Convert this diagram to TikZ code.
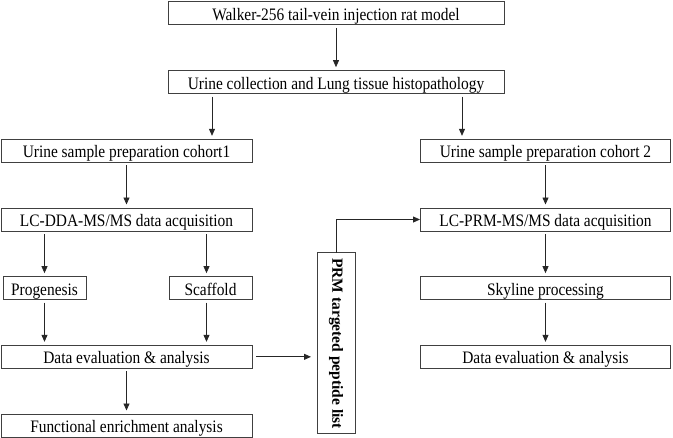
\documentclass[tikz,border=0pt]{standalone}
\usepackage{fontspec}
\setmainfont{Liberation Serif}[FakeStretch=0.88]
\newfontfamily\listfont{Liberation Serif}
\usepackage{graphicx}
\usepackage{tikz}
\usetikzlibrary{arrows.meta, positioning}

\begin{document}
\begin{tikzpicture}[
    x=1pt, y=1pt,
    node distance=45.67pt and 0pt,
    >={Triangle[length=7pt,width=6pt]},
    box/.style={
        rectangle, draw=black!75, line width=1pt,
        minimum height=23pt, inner sep=0pt, outer sep=0pt,
        text height=14.5pt, text depth=0.5pt,
        font=\fontsize{17.5}{20}\selectfont
    },
    wide/.style={box, minimum width=251pt},
    narrow/.style={box, minimum width=83pt},
    listbox/.style={
        rectangle, draw=black!75, line width=1pt,
        minimum width=38pt, minimum height=181pt, inner sep=0pt, outer sep=0pt,
        font=\listfont\bfseries\fontsize{15.5}{18}\selectfont
    },
    arrow/.style={->, line width=0.8pt, black!85, shorten <=3pt, shorten >=3.5pt},
]
\useasboundingbox (0,0) rectangle (673,-438);

% Animal model and sampling
\node[box, minimum width=336pt] (model) at (336,-13.5) {Walker-256 tail-vein injection rat model};
\node[box, minimum width=336pt, below=of model] (collect) {Urine collection and Lung tissue histopathology};

\coordinate (colL) at (126.5,0);
\coordinate (colR) at (545.5,0);

% Cohort 1: discovery
\node[wide, anchor=north] (prepA) at ([yshift=-45.67pt]collect.south -| colL) {Urine sample preparation cohort1};
\node[wide, below=of prepA] (ddaAcq) {LC-DDA-MS/MS data acquisition};
\node[narrow, below=of ddaAcq.south west, anchor=north west, xshift=2pt] (progen) {Progenesis};
\node[narrow, below=of ddaAcq.south east, anchor=north east] (scaffold) {Scaffold};
\node[wide, below=114.33pt of ddaAcq] (evalA) {Data evaluation \& analysis};
\node[wide, below=of evalA] (enrich) {Functional enrichment analysis};

% Cohort 2: validation
\node[wide, minimum width=250pt, anchor=north] (prepB) at ([yshift=-45.67pt]collect.south -| colR) {Urine sample preparation cohort 2};
\node[wide, minimum width=250pt, below=of prepB] (prmAcq) {LC-PRM-MS/MS data acquisition};
\node[wide, minimum width=250pt, below=of prmAcq] (skyline) {Skyline processing};
\node[wide, minimum width=250pt, below=of skyline] (evalB) {Data evaluation \& analysis};

% Target list between the cohorts
\node[listbox] (prmList) at (336,-343.5) {\rotatebox{-90}{PRM targeted peptide list}};

% Arrows
\draw[arrow] (model) -- (collect);
\draw[arrow] ([xshift=44pt]collect.south west) -- ([xshift=44pt]collect.south west |- prepA.north);
\draw[arrow] ([xshift=-42pt]collect.south east) -- ([xshift=-42pt]collect.south east |- prepB.north);
\draw[arrow] (prepA) -- (ddaAcq);
\draw[arrow] (ddaAcq.south -| progen.north) -- (progen.north);
\draw[arrow] ([xshift=-4pt]ddaAcq.south -| scaffold.north) -- ([xshift=-4pt]scaffold.north);
\draw[arrow] (progen) -- (progen |- evalA.north);
\draw[arrow] ([xshift=-4pt]scaffold.south) -- ([xshift=-4pt]scaffold.south |- evalA.north);
\draw[arrow] (evalA) -- (enrich);
\draw[arrow, shorten <=4pt, shorten >=6pt] (evalA.east) -- (evalA.east -| prmList.west);
\draw[arrow, shorten <=0pt, shorten >=0.5pt] (prmList.north) |- (prmAcq.west);
\draw[arrow] (prepB) -- (prmAcq);
\draw[arrow] (prmAcq) -- (skyline);
\draw[arrow] (skyline) -- (evalB);

\end{tikzpicture}
\end{document}
